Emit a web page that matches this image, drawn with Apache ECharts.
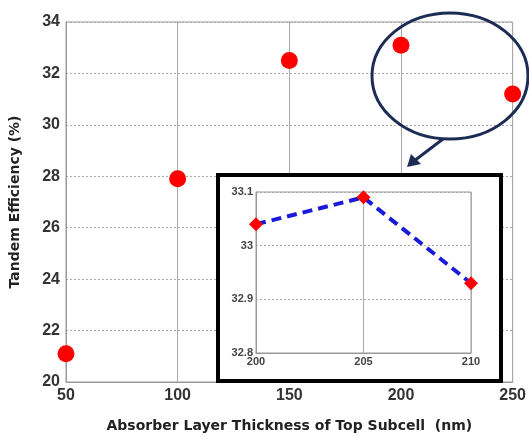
<!DOCTYPE html>
<html>
<head>
<meta charset="utf-8">
<script src="https://cdn.jsdelivr.net/npm/echarts@6/dist/echarts.min.js"></script>
<style>
  html, body { margin: 0; padding: 0; background: #fff; }
  #chart { width: 529px; height: 438px; }
</style>
</head>
<body>
<div id="chart"></div>
<script>
// main plot: thickness (nm) vs tandem efficiency (%)
const thickness = [50, 100, 150, 200, 250]
const efficiency = [21.1, 27.9, 32.5, 33.1, 31.2]
// inset: zoom around the optimum
const insetThickness = [200, 205, 210]
const insetEfficiency = [33.04, 33.09, 32.93]

const labelFont = { fontFamily: 'Liberation Sans', fontWeight: 'bold', color: '#333' }
const titleFont = { fontFamily: 'DejaVu Sans', fontWeight: 'bold', fontSize: 14, color: '#222' }
const chart = echarts.init(document.getElementById('chart'))

const option = {
  animation: false,
  backgroundColor: '#fff',
  grid: [
    { left: 66, right: 16, top: 22, bottom: 48, show: true, borderColor: '#999', borderWidth: 1 },
    { left: 256, right: 58, top: 192, bottom: 85, show: true, borderColor: '#999', borderWidth: 1, z: 4 }
  ],
  xAxis: [
    {
      type: 'value', gridIndex: 0, min: 50, max: 250, interval: 50,
      name: 'Absorber Layer Thickness of Top Subcell  (nm)',
      nameLocation: 'middle', nameGap: 37,
      nameTextStyle: titleFont,
      axisLine: { lineStyle: { color: '#999' } },
      axisTick: { show: false },
      axisLabel: { ...labelFont, fontSize: 16, margin: 6 },
      splitLine: { show: true, lineStyle: { color: '#aaa', width: 1 } }
    },
    {
      type: 'value', gridIndex: 1, min: 200, max: 210, interval: 5, z: 4,
      axisLine: { lineStyle: { color: '#999' } },
      axisTick: { show: false },
      axisLabel: { ...labelFont, fontSize: 11, margin: 3, color: '#444' },
      splitLine: { show: true, lineStyle: { color: '#aaa', width: 1 } }
    }
  ],
  yAxis: [
    {
      type: 'value', gridIndex: 0, min: 20, max: 34, interval: 2,
      name: 'Tandem Efficiency (%)',
      nameLocation: 'middle', nameGap: 44, nameRotate: 90,
      nameTextStyle: titleFont,
      axisLine: { lineStyle: { color: '#999' } },
      axisTick: { show: false },
      axisLabel: { ...labelFont, fontSize: 16, margin: 6 },
      splitLine: { show: true, lineStyle: { color: '#aaa', type: [2, 2], width: 1 } }
    },
    {
      type: 'value', gridIndex: 1, min: 32.8, max: 33.1, interval: 0.1, z: 4,
      axisLine: { lineStyle: { color: '#999' } },
      axisTick: { show: false },
      axisLabel: { ...labelFont, fontSize: 11, margin: 3, color: '#444',
        formatter: v => String(+v.toFixed(1)) },
      splitLine: { show: true, lineStyle: { color: '#aaa', type: [2, 2], width: 1 } }
    }
  ],
  series: [
    {
      type: 'scatter', xAxisIndex: 0, yAxisIndex: 0,
      data: thickness.map((t, i) => [t, efficiency[i]]),
      symbol: 'circle', symbolSize: 17,
      itemStyle: { color: '#f00', opacity: 1 },
      z: 2
    },
    {
      type: 'line', xAxisIndex: 1, yAxisIndex: 1,
      data: insetThickness.map((t, i) => [t, insetEfficiency[i]]),
      symbol: 'diamond', symbolSize: 14, showSymbol: true,
      lineStyle: { color: '#1a1adb', width: 4, type: [10, 6] },
      itemStyle: { color: '#f00' },
      z: 6
    }
  ]
}
chart.setOption(option)

// annotation: ellipse around the optimum, arrow to the inset, inset frame
chart.setOption({
  graphic: [
    {
      type: 'rect', z: 3,
      shape: { x: 218, y: 175, width: 283, height: 206 },
      style: { fill: '#fff', stroke: '#000', lineWidth: 4 }
    },
    {
      type: 'ellipse', z: 10,
      shape: { cx: 450, cy: 76, rx: 78, ry: 63 },
      style: { fill: null, stroke: '#1c2c55', lineWidth: 3 }
    },
    {
      type: 'line', z: 10,
      shape: { x1: 443, y1: 139, x2: 414, y2: 161 },
      style: { stroke: '#1c2c55', lineWidth: 3 }
    },
    {
      type: 'polygon', z: 10,
      shape: { points: [[407, 167], [411, 154], [421, 164]] },
      style: { fill: '#1c2c55' }
    }
  ]
})
</script>
</body>
</html>
